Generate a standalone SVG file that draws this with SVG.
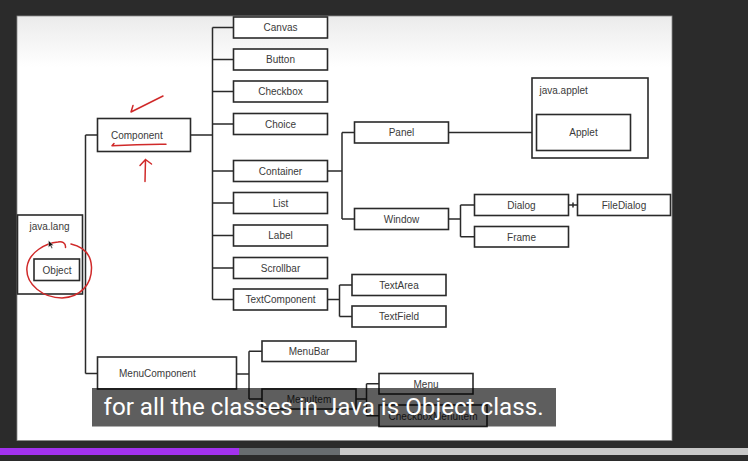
<svg xmlns="http://www.w3.org/2000/svg" width="748" height="461" viewBox="0 0 748 461">
<style>
.box{fill:#fff;stroke:#2a2a2a;stroke-width:1.6}
.t{font-family:"Liberation Sans",Arial,sans-serif;font-size:10px;fill:#3a3a3a;text-anchor:middle}
.tl{font-family:"Liberation Sans",Arial,sans-serif;font-size:10px;fill:#3a3a3a}
.w{stroke:#2a2a2a;stroke-width:1.5;fill:none}
.red{stroke:#d02a2a;stroke-width:1.5;fill:none;stroke-linecap:round;stroke-linejoin:round}
</style>
<defs>
<linearGradient id="bg" x1="0" y1="0" x2="0" y2="1">
<stop offset="0" stop-color="#ebebeb"/>
<stop offset="0.12" stop-color="#ffffff"/>
<stop offset="1" stop-color="#ffffff"/>
</linearGradient>
</defs>
<rect x="0" y="0" width="748" height="461" fill="#2b2b2b"/>
<rect x="17" y="16" width="655" height="424.5" fill="url(#bg)" stroke="#8a8a8a" stroke-width="0.8"/>

<g id="connectors">
<path class="w" d="M190.5,135 H212.5 M212.5,27.5 V299.5 M212.5,27.5 H233.5 M212.5,59.5 H233.5 M212.5,91.5 H233.5 M212.5,124 H233.5 M212.5,171 H233.5 M212.5,203 H233.5 M212.5,235.5 H233.5 M212.5,268 H233.5 M212.5,299.5 H233.5"/>
<path class="w" d="M327.5,171 H342 M342,132.5 V219 M342,132.5 H354.5 M342,219 H354.5"/>
<path class="w" d="M448.5,132.5 H536.5"/>
<path class="w" d="M448.5,219 H460.5 M460.5,205 V236.75 M460.5,205 H474.5 M460.5,236.75 H474.5"/>
<path class="w" d="M568.5,205 H577.5 M573,202.5 V207.5"/>
<path class="w" d="M327.5,299.5 H339.5 M339.5,285 V316.5 M339.5,285 H352 M339.5,316.5 H352"/>
<path class="w" d="M85.5,135 V373.5 M85.5,135 H97.5 M85.5,373.5 H97.5"/>
<path class="w" d="M236.5,374 H249 M249,351.25 V399 M249,351.25 H262 M249,399 H262"/>
<path class="w" d="M356,399 H366.5 M366.5,383.75 V415.75 M366.5,383.75 H379 M366.5,415.75 H379"/>
</g>

<g id="java-lang">
<rect class="box" x="17.5" y="215" width="65" height="79"/>
<text class="tl" x="29.5" y="230">java.lang</text>
</g>
<g id="Object">
<rect class="box" x="34" y="259" width="45.5" height="21.5"/>
<text class="t" x="57" y="273.5">Object</text>
</g>
<g id="Component">
<rect class="box" x="97.5" y="118.5" width="93" height="33"/>
<text class="tl" x="111" y="138.5">Component</text>
</g>
<g id="Canvas"><rect class="box" x="233.5" y="17" width="94" height="21"/><text class="t" x="280.5" y="31">Canvas</text></g>
<g id="Button"><rect class="box" x="233.5" y="49" width="94" height="21"/><text class="t" x="280.5" y="63">Button</text></g>
<g id="Checkbox"><rect class="box" x="233.5" y="81" width="94" height="21"/><text class="t" x="280.5" y="95">Checkbox</text></g>
<g id="Choice"><rect class="box" x="233.5" y="113.5" width="94" height="21"/><text class="t" x="280.5" y="127.5">Choice</text></g>
<g id="Container"><rect class="box" x="233.5" y="160.5" width="94" height="21"/><text class="t" x="280.5" y="174.5">Container</text></g>
<g id="List"><rect class="box" x="233.5" y="192.5" width="94" height="21"/><text class="t" x="280.5" y="206.5">List</text></g>
<g id="Label"><rect class="box" x="233.5" y="225" width="94" height="21"/><text class="t" x="280.5" y="239">Label</text></g>
<g id="Scrollbar"><rect class="box" x="233.5" y="257.5" width="94" height="21"/><text class="t" x="280.5" y="271.5">Scrollbar</text></g>
<g id="TextComponent"><rect class="box" x="233.5" y="289" width="94" height="21"/><text class="t" x="280.5" y="303">TextComponent</text></g>
<g id="Panel"><rect class="box" x="354.5" y="122" width="94" height="21"/><text class="t" x="401.5" y="136">Panel</text></g>
<g id="Window"><rect class="box" x="354.5" y="208.5" width="94" height="21"/><text class="t" x="401.5" y="222.5">Window</text></g>
<g id="Dialog"><rect class="box" x="474.5" y="194.5" width="94" height="21"/><text class="t" x="521.5" y="208.5">Dialog</text></g>
<g id="Frame"><rect class="box" x="474.5" y="226.5" width="94" height="20.5"/><text class="t" x="521.5" y="240.5">Frame</text></g>
<g id="FileDialog"><rect class="box" x="577.5" y="194.5" width="93" height="21"/><text class="t" x="624" y="208.5">FileDialog</text></g>
<g id="java-applet">
<rect class="box" x="532" y="78" width="116" height="80"/>
<text class="tl" x="539.5" y="93.5">java.applet</text>
</g>
<g id="Applet"><rect class="box" x="536.5" y="114.5" width="94" height="36"/><text class="t" x="583.5" y="136">Applet</text></g>
<g id="TextArea"><rect class="box" x="352" y="274.5" width="94" height="21"/><text class="t" x="399" y="288.5">TextArea</text></g>
<g id="TextField"><rect class="box" x="352" y="306" width="94" height="21"/><text class="t" x="399" y="320">TextField</text></g>
<g id="MenuComponent"><rect class="box" x="97.5" y="357" width="139" height="32"/><text class="tl" x="119" y="376.5">MenuComponent</text></g>
<g id="MenuBar"><rect class="box" x="262" y="341" width="94" height="20.5"/><text class="t" x="309" y="355">MenuBar</text></g>
<g id="MenuItem"><rect class="box" x="262" y="389" width="94" height="20"/><text class="t" x="309" y="402.5">MenuItem</text></g>
<g id="Menu"><rect class="box" x="379" y="373.5" width="94" height="20.5"/><text class="t" x="426" y="387.5">Menu</text></g>
<g id="CheckboxMenuItem"><rect class="box" x="379" y="405" width="108" height="21.5"/><text class="t" x="433" y="419.5">CheckboxMenuItem</text></g>

<g id="annotations">
<path class="red" d="M163,96 L131,112 L133,105.5"/>
<path class="red" stroke-width="2" d="M114,143.5 L112,145.8 Q140,144 166,144.2"/>
<path class="red" d="M145,181.5 L145.5,159.5 M140,165.5 L145.5,159.5 L151.5,164"/>
<path class="red" d="M65.5,247.5 C66,243 62,241 58,242 C46,243 29,252 27,267 C25,285 44,298 62,298 C80,297 92,285 91.5,267 C91,254 84,247 71,244"/>
<path d="M48.5,240.5 L48.5,247.5 L50.2,245.8 L51.7,248.6 L52.7,248.1 L51.3,245.4 L53.5,245.2 Z" fill="#111" stroke="#fff" stroke-width="0.4"/>
</g>

<g id="caption">
<rect x="92" y="388" width="464" height="38.5" fill="#000" fill-opacity="0.63"/>
<text x="103.5" y="415" font-family="Roboto,'Liberation Sans',Arial,sans-serif" font-size="24" fill="#ffffff" textLength="440" lengthAdjust="spacingAndGlyphs">for all the classes in Java is Object class.</text>
</g>

<g id="progress">
<rect x="0" y="448" width="239" height="7" fill="#a232ee"/>
<rect x="239" y="448" width="101" height="7" fill="#686d70"/>
<rect x="340" y="448" width="408" height="7" fill="#c8c8c8"/>
</g>
</svg>
